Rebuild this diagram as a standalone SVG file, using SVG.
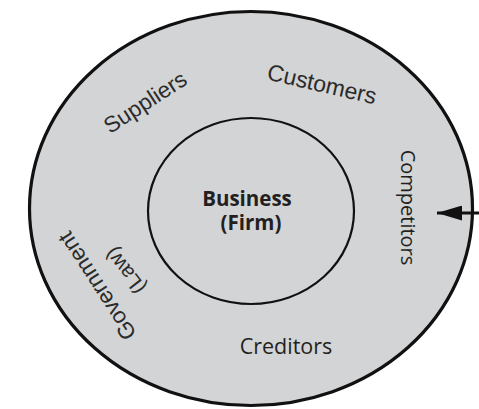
<svg xmlns="http://www.w3.org/2000/svg" width="479" height="409" viewBox="0 0 479 409">
<style>
.ring{fill:#d3d4d6;stroke:#111;}
.arial{font-family:"Liberation Sans",Arial,sans-serif;font-size:22.5px;fill:#2b2b2b;text-anchor:middle;}
.open{font-family:"Open Sans","Noto Sans",sans-serif;font-size:20px;fill:#231f20;text-anchor:middle;}
.bold{font-weight:bold;}
</style>
<defs>
<marker id="ah" markerWidth="25" markerHeight="15" refX="25" refY="7.5" orient="auto" markerUnits="userSpaceOnUse">
<polygon points="0,0 25,7.5 0,15" fill="#111"/>
</marker>
</defs>
<rect width="479" height="409" fill="#fff"/>
<g id="environment">
<ellipse class="ring" cx="251" cy="208.5" rx="221.5" ry="197" stroke-width="3.2"/>
<text class="arial" transform="translate(145,102) rotate(-33)" dy="0.35em">Suppliers</text>
<text class="arial" transform="translate(322,84) rotate(13)" dy="0.35em" style="font-size:23px">Customers</text>
<text class="open" transform="translate(408,207.5) rotate(90)" dy="0.35em">Competitors</text>
<text class="arial" transform="translate(97,286) rotate(-123)" dy="0.35em">Government</text>
<text class="arial" transform="translate(125,271) rotate(-128)" dy="0.35em" style="font-size:21px">(Law)</text>
<text class="open" x="286" y="354" style="font-size:21.5px">Creditors</text>
</g>
<g id="business">
<ellipse class="ring" cx="251" cy="211" rx="103" ry="93" stroke-width="2.2"/>
<text class="open bold" style="font-size:20.5px"><tspan x="247" y="206">Business</tspan><tspan x="251" y="230">(Firm)</tspan></text>
</g>
<g id="connectors">
<line x1="479" y1="213" x2="437" y2="213" stroke="#111" stroke-width="3" marker-end="url(#ah)"/>
</g>
</svg>
